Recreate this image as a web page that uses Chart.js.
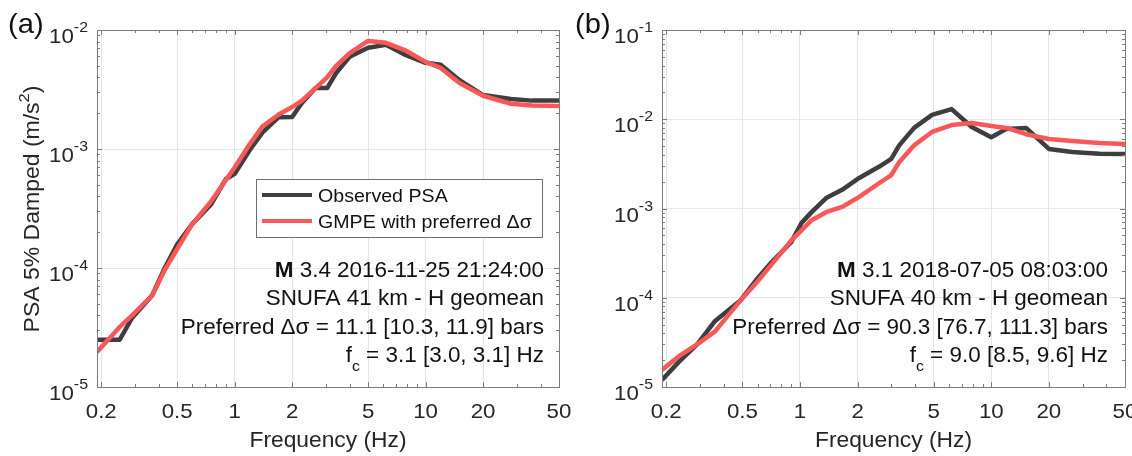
<!DOCTYPE html>
<html><head><meta charset="utf-8">
<script src="https://cdn.jsdelivr.net/npm/chart.js@4.4.0/dist/chart.umd.min.js"></script>
<style>
html,body{margin:0;padding:0;background:#fff;overflow:hidden;width:1132px;height:456px;}
#wrap{position:relative;width:1132px;height:456px;overflow:hidden;background:#fff;}
.pane{position:absolute;top:0;height:456px;}
canvas{display:block;}
</style></head><body>
<div id="wrap">
<div class="pane" style="left:0;width:600px"><canvas id="ca" width="600" height="456"></canvas></div>
<div class="pane" style="left:560px;width:580px"><canvas id="cb" width="580" height="456"></canvas></div>
</div>
<script>
// ---------- data ----------
const freqA = [0.19, 0.25, 0.29, 0.37, 0.43, 0.5, 0.6, 0.75, 0.9, 1.0, 1.2, 1.4, 1.7, 2.0, 2.25, 2.65, 3.05, 3.4, 4.0, 5.0, 6.2, 7.9, 10, 12, 15, 20, 28, 36, 50];
const observedA = [2.5e-5, 2.5e-5, 3.8e-5, 5.9e-5, 1.0e-4, 1.58e-4, 2.35e-4, 3.4e-4, 5.6e-4, 6.2e-4, 9.8e-4, 1.38e-3, 1.85e-3, 1.86e-3, 2.44e-3, 3.25e-3, 3.25e-3, 4.35e-3, 5.95e-3, 7.1e-3, 7.5e-3, 6.15e-3, 5.3e-3, 5.1e-3, 3.8e-3, 2.84e-3, 2.63e-3, 2.55e-3, 2.55e-3];
const gmpeA = [1.97e-5, 3.2e-5, 4.0e-5, 5.9e-5, 9.6e-5, 1.45e-4, 2.35e-4, 3.6e-4, 5.5e-4, 7.0e-4, 1.1e-3, 1.55e-3, 1.95e-3, 2.25e-3, 2.55e-3, 3.25e-3, 4.0e-3, 5.0e-3, 6.4e-3, 8.1e-3, 7.8e-3, 6.7e-3, 5.4e-3, 4.8e-3, 3.6e-3, 2.8e-3, 2.4e-3, 2.32e-3, 2.3e-3];

const freqB = [0.19, 0.232, 0.29, 0.36, 0.49, 0.59, 0.71, 0.9, 1.02, 1.15, 1.37, 1.66, 2.04, 2.6, 3.0, 3.3, 3.95, 4.9, 6.2, 7.9, 10, 12, 15.2, 20, 26.5, 36.7, 50];
const observedB = [1.2e-5, 1.9e-5, 3.0e-5, 5.5e-5, 9.4e-5, 1.58e-4, 2.5e-4, 4.2e-4, 6.9e-4, 9.1e-4, 1.31e-3, 1.62e-3, 2.2e-3, 2.95e-3, 3.6e-3, 5.1e-3, 8.0e-3, 1.12e-2, 1.3e-2, 8.2e-3, 6.3e-3, 7.8e-3, 8.0e-3, 4.65e-3, 4.3e-3, 4.1e-3, 4.08e-3];
const gmpeB = [1.55e-5, 2.2e-5, 3.0e-5, 4.2e-5, 9.4e-5, 1.46e-4, 2.35e-4, 4.4e-4, 5.7e-4, 7.4e-4, 9.1e-4, 1.04e-3, 1.35e-3, 1.93e-3, 2.37e-3, 3.3e-3, 5.1e-3, 7.2e-3, 8.6e-3, 9.1e-3, 8.4e-3, 8.0e-3, 6.8e-3, 6.0e-3, 5.7e-3, 5.42e-3, 5.28e-3];

const xTickValues = [0.2, 0.5, 1, 2, 5, 10, 20, 50];
const xTickLabels = ['0.2', '0.5', '1', '2', '5', '10', '20', '50'];
const xMinorValues = [0.3, 0.4, 0.6, 0.7, 0.8, 0.9, 3, 4, 6, 7, 8, 9, 30, 40];
const yExponentsA = [-5, -4, -3, -2];
const yExponentsB = [-5, -4, -3, -2, -1];
const seriesNames = ['Observed PSA', 'GMPE with preferred Δσ'];
const xTitle = 'Frequency (Hz)';
const yTitle = 'PSA 5% Damped (m/s';
const infoA = ['3.4 2016-11-25 21:24:00', 'SNUFA 41 km - H geomean', 'Preferred Δσ = 11.1 [10.3, 11.9] bars', ' = 3.1 [3.0, 3.1] Hz'];
const infoB = ['3.1 2018-07-05 08:03:00', 'SNUFA 40 km - H geomean', 'Preferred Δσ = 90.3 [76.7, 111.3] bars', ' = 9.0 [8.5, 9.6] Hz'];

// ---------- styling ----------
const FAM = '"Liberation Sans", Arial, Helvetica, sans-serif';
const SX = 1.06;
const DARK = 'rgb(62,62,62)';
const RED = 'rgb(250,88,88)';
const AXIS = '#7c7c7c';
const GRID = '#e6e6e6';
const TXT = '#262626';
function fnt(size, bold) { return (bold ? 'bold ' : '') + size + 'px ' + FAM; }
function tw(ctx, s, font) { ctx.font = font; return ctx.measureText(s).width * SX; }
function tx(ctx, s, x, y, font, color) {
  ctx.save(); ctx.font = font; ctx.fillStyle = color; ctx.textAlign = 'left'; ctx.textBaseline = 'alphabetic';
  ctx.translate(x, y); ctx.scale(SX, 1); ctx.fillText(s, 0, 0); ctx.restore();
}
function runsWidth(ctx, parts) { return parts.reduce((a, p) => a + tw(ctx, p.s, p.font), 0); }
function drawRuns(ctx, parts, x, y, color) {
  let cx = x;
  for (const p of parts) { tx(ctx, p.s, cx, y + (p.dy || 0), p.font, color); cx += tw(ctx, p.s, p.font); }
}

function framePlugin(cfg) {
  return {
    id: 'frame' + cfg.name,
    afterDatasetsDraw(chart) {
      const ctx = chart.ctx, a = chart.chartArea, xs = chart.scales.x, ys = chart.scales.y;
      const L = Math.round(a.left), R = Math.round(a.right), T = Math.round(a.top), B = Math.round(a.bottom);
      ctx.save();
      ctx.strokeStyle = AXIS; ctx.lineWidth = 1;
      ctx.strokeRect(L + 0.5, T + 0.5, R - L, B - T);
      const vt = (v, len) => { const p = Math.round(xs.getPixelForValue(v)) + 0.5; ctx.beginPath(); ctx.moveTo(p, B); ctx.lineTo(p, B - len); ctx.moveTo(p, T); ctx.lineTo(p, T + len); ctx.stroke(); };
      const ht = (v, len) => { const p = Math.round(ys.getPixelForValue(v)) + 0.5; ctx.beginPath(); ctx.moveTo(L, p); ctx.lineTo(L + len, p); ctx.moveTo(R, p); ctx.lineTo(R - len, p); ctx.stroke(); };
      xTickValues.forEach(v => vt(v, 5));
      xMinorValues.forEach(v => vt(v, 3));
      const ex = cfg.yExp;
      ex.forEach(e => ht(Math.pow(10, e), 5));
      for (let i = 0; i < ex.length - 1; i++) for (let k = 2; k <= 9; k++) ht(k * Math.pow(10, ex[i]), 3);
      // x tick labels
      const tf = fnt(21);
      xTickValues.forEach((v, i) => {
        const p = xs.getPixelForValue(v); const w = tw(ctx, xTickLabels[i], tf);
        tx(ctx, xTickLabels[i], p - w / 2, B + 31, tf, TXT);
      });
      // y tick labels 10^e
      const sf = fnt(15);
      ex.forEach(e => {
        const p = ys.getPixelForValue(Math.pow(10, e));
        const parts = [{ s: '10', font: tf }, { s: '-' + Math.abs(e), font: sf, dy: -11 }];
        const w = runsWidth(ctx, parts);
        drawRuns(ctx, parts, L - 9 - w, p + 13, TXT);
      });
      // x title
      const xf = fnt(21.5);
      const xw = tw(ctx, xTitle, xf);
      tx(ctx, xTitle, (L + R) / 2 - xw / 2, B + 60, xf, TXT);
      // panel letter
      tx(ctx, cfg.letter, cfg.letterX, 33, fnt(27.5), '#111');
      // annotation
      const af = fnt(21.2), ab = fnt(21.2, true);
      const lines = [
        [{ s: 'M', font: ab }, { s: ' ' + cfg.info[0], font: af }],
        [{ s: cfg.info[1], font: af }],
        [{ s: cfg.info[2], font: af }],
        [{ s: 'f', font: af }, { s: 'c', font: fnt(15), dy: 9 }, { s: cfg.info[3], font: af }]
      ];
      const bl = [277, 305, 334, 362];
      lines.forEach((ln, i) => { const w = runsWidth(ctx, ln); drawRuns(ctx, ln, cfg.annRight - w, bl[i], '#111'); });
      if (cfg.legend) {
        ctx.fillStyle = '#fff'; ctx.strokeStyle = '#6e6e6e'; ctx.lineWidth = 1;
        ctx.fillRect(256.5, 179.5, 286, 58); ctx.strokeRect(256.5, 179.5, 286, 58);
        const lf = fnt(18.5);
        [[DARK, 195], [RED, 221]].forEach((c, i) => {
          ctx.strokeStyle = c[0]; ctx.lineWidth = 4; ctx.beginPath(); ctx.moveTo(262, c[1]); ctx.lineTo(312, c[1]); ctx.stroke();
          tx(ctx, seriesNames[i], 318, c[1] + 6.5, lf, '#111');
        });
      }
      if (cfg.yTitle) {
        ctx.save();
        ctx.translate(39, 209); ctx.rotate(-Math.PI / 2);
        const yf = fnt(21.7), ysf = fnt(15.5);
        const parts = [{ s: yTitle, font: yf }, { s: '2', font: ysf, dy: -10 }, { s: ')', font: yf }];
        const w = runsWidth(ctx, parts);
        drawRuns(ctx, parts, -w / 2, 0, TXT);
        ctx.restore();
      }
      ctx.restore();
    }
  };
}

function makeChart(id, cfg) {
  const pts = (fr, vals) => fr.map((f, i) => ({ x: f, y: vals[i] }));
  return new Chart(document.getElementById(id), {
    type: 'line',
    data: {
      datasets: [
        { label: seriesNames[1], data: pts(cfg.freq, cfg.gmpe), borderColor: RED, borderWidth: 4.5, pointRadius: 0, tension: 0, order: 0, borderJoinStyle: 'round', borderCapStyle: 'butt' },
        { label: seriesNames[0], data: pts(cfg.freq, cfg.obs), borderColor: DARK, borderWidth: 4.5, pointRadius: 0, tension: 0, order: 1, borderJoinStyle: 'round', borderCapStyle: 'butt' }
      ]
    },
    options: {
      responsive: false, animation: false, devicePixelRatio: 1,
      layout: { padding: cfg.padding },
      plugins: { legend: { display: false }, tooltip: { enabled: false } },
      scales: {
        x: {
          type: 'logarithmic', min: 0.19, max: 50,
          afterFit: s => { s.height = 0; },
          afterBuildTicks: s => { s.ticks = xTickValues.map(v => ({ value: v })); },
          ticks: { display: false }, grid: { color: GRID, drawTicks: false, lineWidth: 1 }, border: { display: false }
        },
        y: {
          type: 'logarithmic', min: Math.pow(10, cfg.yExp[0]), max: Math.pow(10, cfg.yExp[cfg.yExp.length - 1]),
          afterFit: s => { s.width = 0; },
          afterBuildTicks: s => { s.ticks = cfg.yExp.map(e => ({ value: Math.pow(10, e) })); },
          ticks: { display: false }, grid: { color: GRID, drawTicks: false, lineWidth: 1 }, border: { display: false }
        }
      }
    },
    plugins: [framePlugin(cfg)]
  });
}

makeChart('ca', { name: 'A', freq: freqA, obs: observedA, gmpe: gmpeA, yExp: yExponentsA,
  padding: { left: 97, right: 41, top: 30, bottom: 69 }, letter: '(a)', letterX: 8,
  info: infoA, annRight: 544, legend: true, yTitle: true });
makeChart('cb', { name: 'B', freq: freqB, obs: observedB, gmpe: gmpeB, yExp: yExponentsB,
  padding: { left: 102, right: 15, top: 30, bottom: 69 }, letter: '(b)', letterX: 15,
  info: infoB, annRight: 548, legend: false, yTitle: false });
</script>
</body></html>
